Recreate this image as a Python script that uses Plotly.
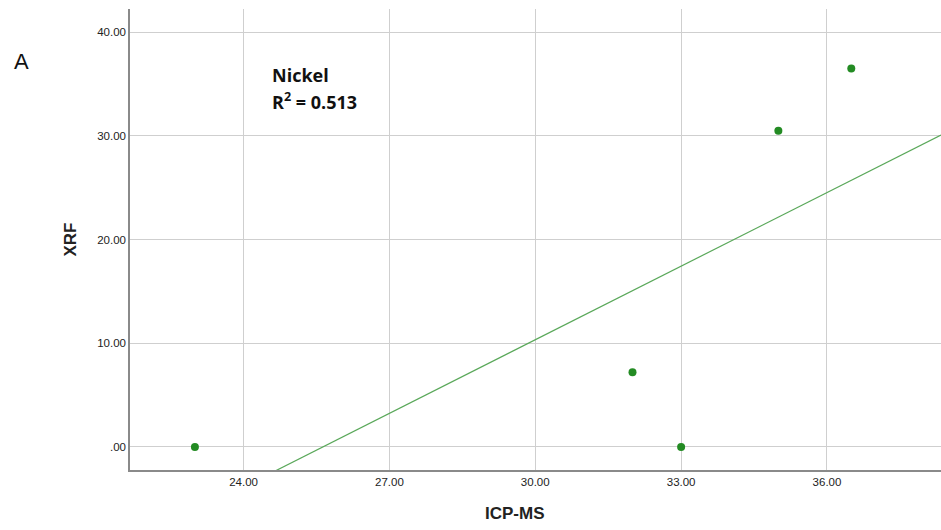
import numpy as np
import plotly.graph_objects as go

icp_ms = [23.0, 32.0, 33.0, 35.0, 36.5]
xrf = [0.0, 7.2, 0.0, 30.5, 36.5]
x_tick_vals = [24, 27, 30, 33, 36]
x_tick_text = ["24.00", "27.00", "30.00", "33.00", "36.00"]
y_tick_vals = [0, 10, 20, 30, 40]
y_tick_text = [".00", "10.00", "20.00", "30.00", "40.00"]
x_range = [21.665, 38.345]
y_range = [-2.22, 42.25]

slope, intercept = np.polyfit(icp_ms, xrf, 1)
r2 = np.corrcoef(icp_ms, xrf)[0, 1] ** 2
line_x = np.array(x_range)
line_y = slope * line_x + intercept

fig = go.Figure()
fig.add_trace(go.Scatter(x=line_x, y=line_y, mode="lines",
                         line=dict(color="#5aa85a", width=1.2), showlegend=False))
fig.add_trace(go.Scatter(x=icp_ms, y=xrf, mode="markers",
                         marker=dict(color="#238b23", size=8), showlegend=False, cliponaxis=False))

axis_common = dict(showgrid=True, gridcolor="#cfcfcf", gridwidth=1, zeroline=False,
                   showline=True, linecolor="#8a8a8a", linewidth=1.5, ticks="",
                   tickfont=dict(family="Liberation Sans, Arial", size=11.5, color="#222"))
fig.update_xaxes(range=x_range, tickvals=x_tick_vals, ticktext=x_tick_text, **axis_common)
fig.update_yaxes(range=y_range, tickvals=y_tick_vals, ticktext=y_tick_text,
                 title=dict(text="<b>XRF</b>", font=dict(family="Liberation Sans, Arial", size=17, color="#222"), standoff=16),
                 **axis_common)

PW, PH, L, T = 811, 461, 130, 9
def px(xp):
    return (xp - L) / PW
def py(yp):
    return (T + PH - yp) / PH

fig.add_annotation(xref="paper", yref="paper", x=px(515), y=py(513), text="<b>ICP-MS</b>",
                   showarrow=False, xanchor="center", yanchor="middle",
                   font=dict(family="Liberation Sans, Arial", size=17, color="#222"))
fig.add_annotation(xref="paper", yref="paper", x=px(270), y=py(75), text="<b>Nickel</b>",
                   showarrow=False, xanchor="left", yanchor="middle",
                   font=dict(family="Open Sans, Liberation Sans", size=18, color="#111"))
fig.add_annotation(xref="paper", yref="paper", x=px(270), y=py(101), text="<b>R<sup>2</sup> = %.3f</b>" % r2,
                   showarrow=False, xanchor="left", yanchor="middle",
                   font=dict(family="Open Sans, Liberation Sans", size=18, color="#111"))
fig.add_annotation(xref="paper", yref="paper", x=px(12), y=py(62), text="A", showarrow=False,
                   xanchor="left", yanchor="middle",
                   font=dict(family="Liberation Sans, Arial", size=22, color="#111"))

fig.update_layout(width=941, height=530, margin=dict(l=130, r=0, t=9, b=60),
                  plot_bgcolor="white", paper_bgcolor="white")
fig.write_html("out.html")
